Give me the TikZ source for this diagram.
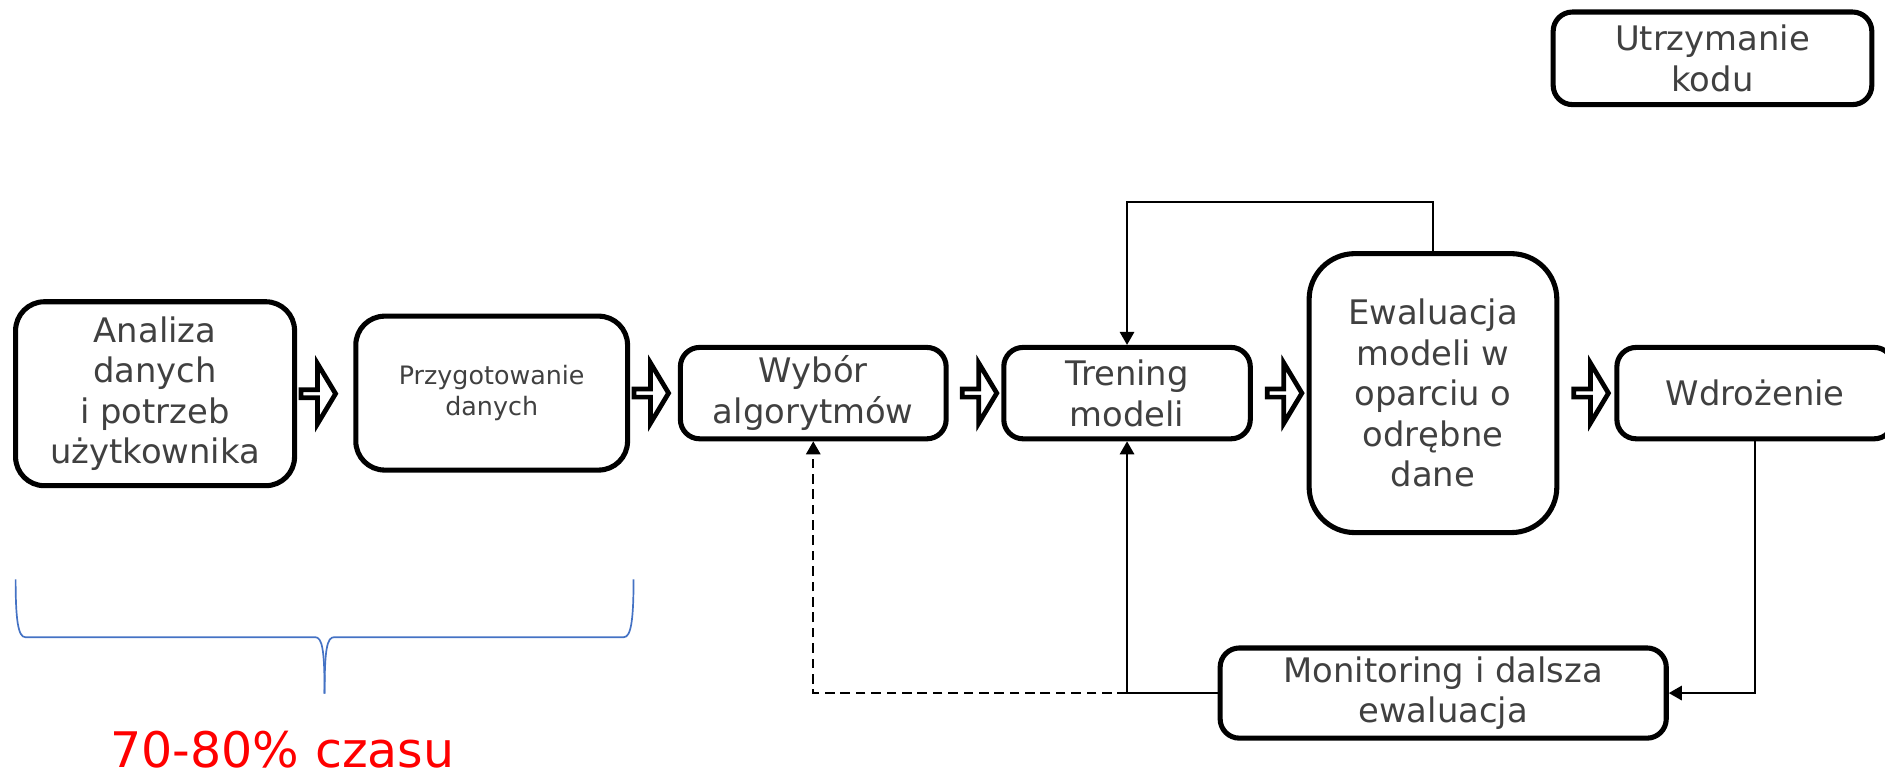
\documentclass[tikz,border=0pt]{standalone}
\usepackage{fontspec}
\setmainfont{DejaVu Sans}
\usepackage{xcolor}
\usetikzlibrary{shapes,arrows,positioning,calc,arrows.meta}
\definecolor{textgray}{HTML}{404040}
\definecolor{braceblue}{HTML}{4472C4}

\begin{document}
\begin{tikzpicture}[x=0.025cm, y=-0.025cm,
    stage/.style={draw, line width=3pt, rounded corners=0.4cm, align=center, text=textgray,
        font=\fontsize{20}{24}\selectfont, inner sep=0pt},
    flowarrow/.style={single arrow, draw, line width=2.8pt, fill=white, minimum height=0.72cm,
        minimum width=1.25cm, single arrow head extend=0.32cm, single arrow tip angle=118,
        inner sep=0pt, outer sep=0pt, anchor=west},
    link/.style={line width=1pt, -{Triangle[length=0.27cm,width=0.3cm]}}]

    \useasboundingbox (0,0) rectangle (1568,646);

    % Stages
    \node [stage, rounded corners=0.6cm, minimum width=5.8cm, minimum height=3.825cm] (analiza) at (129,327.5) {Analiza\\danych\\i potrzeb\\użytkownika};
    \node [stage, rounded corners=0.6cm, minimum width=5.65cm, minimum height=3.2cm, font=\fontsize{15}{18}\selectfont] (przygotowanie) at (409,327) {Przygotowanie\\danych};
    \node [stage, minimum width=5.525cm, minimum height=1.9cm] (wybor) at (676.5,327) {Wybór\\algorytmów};
    \node [stage, minimum width=5.125cm, minimum height=1.9cm] (trening) at (937.5,327) {Trening\\modeli};
    \node [stage, rounded corners=0.95cm, minimum width=5.15cm, minimum height=5.8cm] (ewaluacja) at (1192,327) {Ewaluacja\\modeli w\\oparciu o\\odrębne\\dane};
    \node [stage, minimum width=5.75cm, minimum height=1.9cm] (wdrozenie) at (1460,327) {Wdrożenie};
    \node [stage, minimum width=6.625cm, minimum height=1.925cm] (utrzymanie) at (1424.5,48.5) {Utrzymanie\\kodu};
    \node [stage, minimum width=9.275cm, minimum height=1.875cm] (monitoring) at (1200.5,576.5) {Monitoring i dalsza\\ewaluacja};

    % Block arrows
    \node [flowarrow, right=0.08cm of analiza] (ar1) {};
    \node [flowarrow, right=0.08cm of przygotowanie] (ar2) {};
    \node [flowarrow, right=0.28cm of wybor] (ar3) {};
    \node [flowarrow, right=0.3cm of trening] (ar4) {};
    \node [flowarrow, right=0.3cm of ewaluacja] (ar5) {};

    % Feedback loops
    \draw [link] (ewaluacja.north) -- ++(0,-41) -| (trening.north);
    \draw [link] (wdrozenie.south) |- (monitoring.east);
    \draw [link] (monitoring.west) -| (trening.south);
    \coordinate (split) at (monitoring.west -| trening.south);
    \draw [link, dash pattern=on 0.2cm off 0.12cm] (split) -| (wybor.south);

    % Brace
    \draw [braceblue, line width=1pt] (13,482) .. controls (13,515) and (15,530) .. (21,530) -- (262,530)
        .. controls (268,530) and (270,540) .. (270,577);
    \draw [braceblue, line width=1pt] (270,577) .. controls (270,540) and (272,530) .. (278,530) -- (519,530)
        .. controls (525,530) and (527,515) .. (527,482);
    \node [text=red, font=\fontsize{29}{34}\selectfont, anchor=base] (czas) at (235,638.5) {70-80\% czasu};
\end{tikzpicture}
\end{document}
